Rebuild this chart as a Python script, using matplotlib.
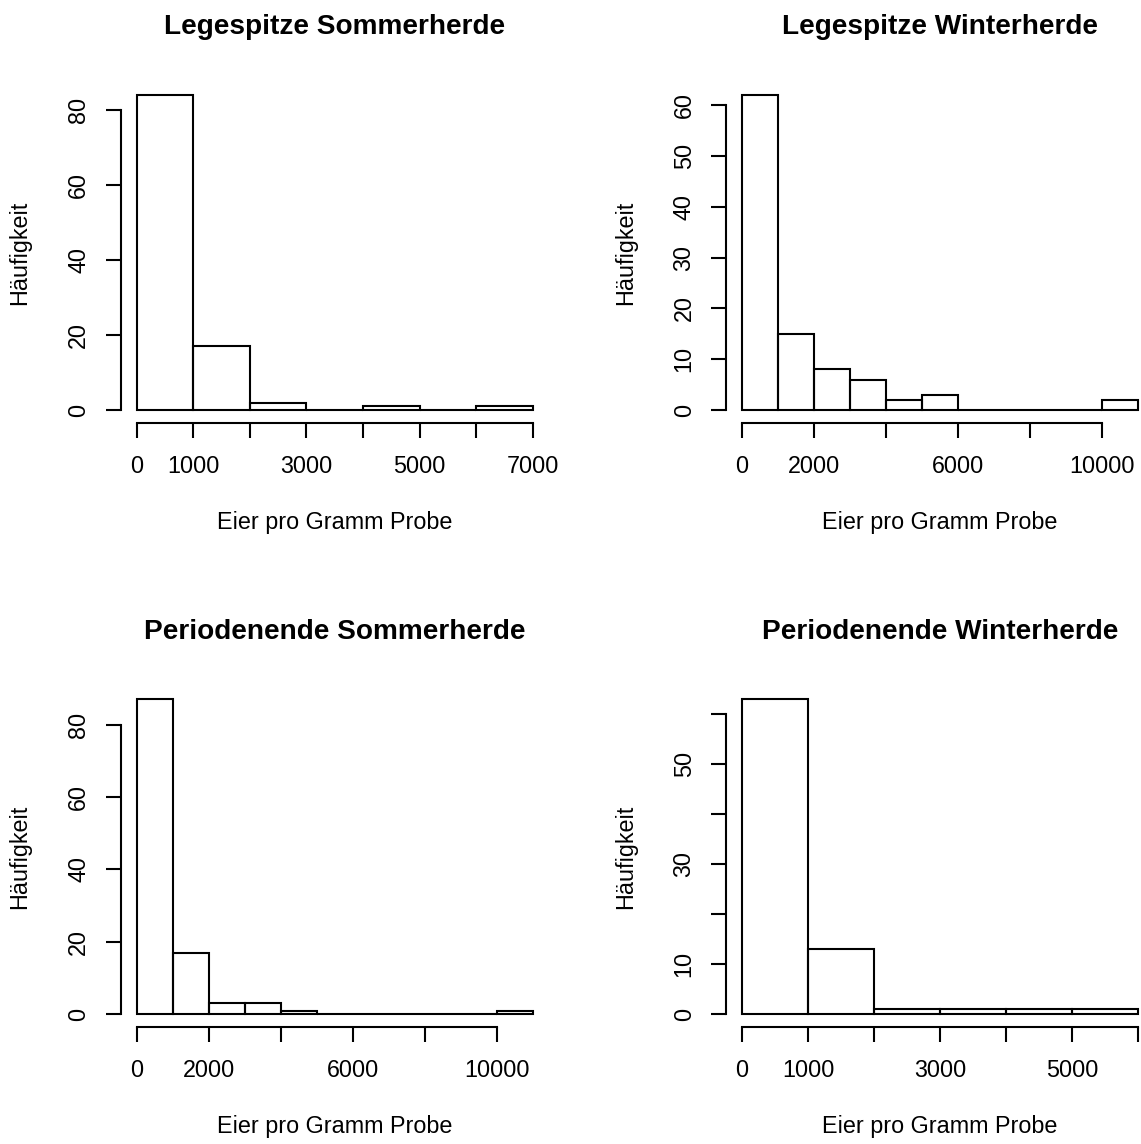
#
# Histograms of egg counts per gram (EPG) for the four herd samples
#
import numpy as np
import matplotlib.pyplot as plt
from matplotlib.transforms import offset_copy

plt.rcParams['font.family'] = ['Liberation Sans', 'DejaVu Sans']

# Bin edges and counts for each histogram
titles = ['Legespitze Sommerherde', 'Legespitze Winterherde',
          'Periodenende Sommerherde', 'Periodenende Winterherde']

edges_ls = [0, 1000, 2000, 3000, 4000, 5000, 6000, 7000]
counts_ls = [84, 17, 2, 0, 1, 0, 1]

edges_lw = [0, 1000, 2000, 3000, 4000, 5000, 6000, 7000, 8000, 9000, 10000, 11000]
counts_lw = [62, 15, 8, 6, 2, 3, 0, 0, 0, 0, 2]

edges_ps = [0, 1000, 2000, 3000, 4000, 5000, 6000, 7000, 8000, 9000, 10000, 11000]
counts_ps = [87, 17, 3, 3, 1, 0, 0, 0, 0, 0, 1]

edges_pw = [0, 1000, 2000, 3000, 4000, 5000, 6000]
counts_pw = [63, 13, 1, 1, 1, 1]

# Axis ticks (empty label = tick drawn without text, as R drops overlapping labels)
xticks_ls = [0, 1000, 2000, 3000, 4000, 5000, 6000, 7000]
xlabels_ls = ['0', '1000', '', '3000', '', '5000', '', '7000']
yticks_ls = [0, 20, 40, 60, 80]
ylabels_ls = ['0', '20', '40', '60', '80']

xticks_lw = [0, 2000, 4000, 6000, 8000, 10000]
xlabels_lw = ['0', '2000', '', '6000', '', '10000']
yticks_lw = [0, 10, 20, 30, 40, 50, 60]
ylabels_lw = ['0', '10', '20', '30', '40', '50', '60']

xticks_ps = [0, 2000, 4000, 6000, 8000, 10000]
xlabels_ps = ['0', '2000', '', '6000', '', '10000']
yticks_ps = [0, 20, 40, 60, 80]
ylabels_ps = ['0', '20', '40', '60', '80']

xticks_pw = [0, 1000, 2000, 3000, 4000, 5000, 6000]
xlabels_pw = ['0', '1000', '', '3000', '', '5000', '']
yticks_pw = [0, 10, 20, 30, 40, 50, 60]
ylabels_pw = ['0', '10', '', '30', '', '50', '']

panels = [
    (edges_ls, counts_ls, xticks_ls, xlabels_ls, yticks_ls, ylabels_ls),
    (edges_lw, counts_lw, xticks_lw, xlabels_lw, yticks_lw, ylabels_lw),
    (edges_ps, counts_ps, xticks_ps, xlabels_ps, yticks_ps, ylabels_ps),
    (edges_pw, counts_pw, xticks_pw, xlabels_pw, yticks_pw, ylabels_pw),
]

W, H = 1141, 1144
fig = plt.figure(figsize=(W / 100, H / 100), dpi=100)

# plot regions in pixels: left, top of region
lefts = [120.9, 726.2]
tops = [82.4, 686.7]
pw, ph = 427.6, 340.2

lw = 1.5
fs = 16.8

for i, (edges, counts, xt, xl, yt, yl) in enumerate(panels):
    r, c = divmod(i, 2)
    left = lefts[c]
    top = tops[r]
    ax = fig.add_axes([left / W, 1 - (top + ph) / H, pw / W, ph / H])

    edges = np.array(edges)
    ax.bar(edges[:-1], counts, width=np.diff(edges), align='edge',
           fill=False, edgecolor='black', linewidth=lw)

    # R style 4% padding around data range
    x0, x1 = edges[0], edges[-1]
    ymax = max(counts)
    ax.set_xlim(x0 - 0.04 * (x1 - x0), x1 + 0.04 * (x1 - x0))
    ax.set_ylim(-0.04 * ymax, ymax * 1.04)

    for s in ['top', 'right']:
        ax.spines[s].set_visible(False)
    ax.spines['left'].set_bounds(yt[0], yt[-1])
    ax.spines['bottom'].set_bounds(xt[0], xt[-1])
    for s in ['left', 'bottom']:
        ax.spines[s].set_linewidth(lw)

    ax.set_xticks(xt)
    ax.set_xticklabels(xl)
    ax.set_yticks(yt)
    ax.set_yticklabels(yl, rotation=90, va='center')
    ax.tick_params(axis='both', length=10.8, width=lw, labelsize=fs, direction='out')
    ax.tick_params(axis='x', pad=12.5)
    ax.tick_params(axis='y', pad=11.2)

    # title, axis labels at fixed pixel offsets from the plot region
    t = offset_copy(ax.transAxes, fig=fig, x=0, y=55, units='dots')
    ax.text(0.5, 1.0, titles[i], transform=t, ha='center', va='center',
            fontsize=20.2, fontweight='bold')
    t = offset_copy(ax.transAxes, fig=fig, x=0, y=-100, units='dots')
    ax.text(0.5, 0.0, 'Eier pro Gramm Probe', transform=t, ha='center',
            va='center', fontsize=fs)
    t = offset_copy(ax.transAxes, fig=fig, x=-101, y=0, units='dots')
    ax.text(0.0, 0.5, 'Häufigkeit', transform=t, ha='center', va='center',
            rotation=90, fontsize=fs)

plt.savefig('out.png', dpi=100)
plt.close()
